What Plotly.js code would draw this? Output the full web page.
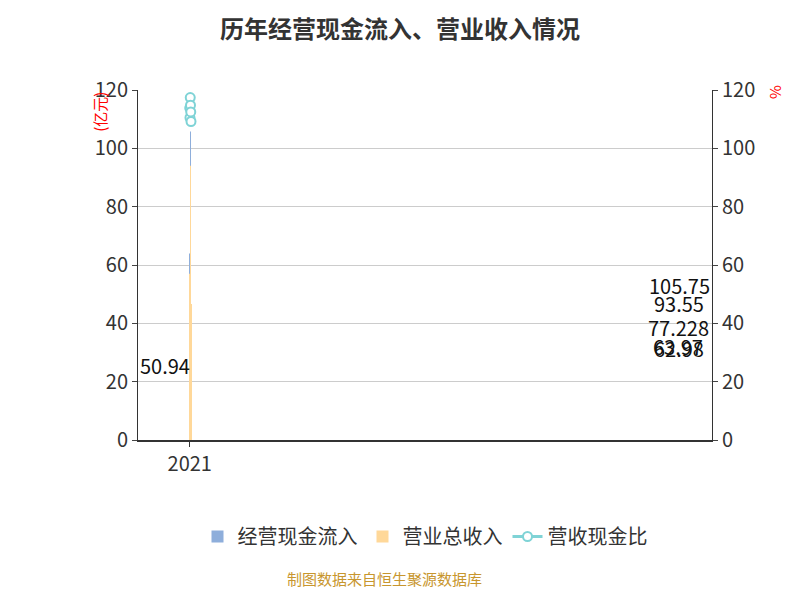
<!DOCTYPE html>
<html><head><meta charset="utf-8">
<script src="https://cdn.plot.ly/plotly-3.0.1.min.js"></script>
<style>body{margin:0}#c{width:800px;height:600px}</style>
</head><body><div id="c"></div>
<script>
var years = ['2021', '2022', '2023', '2024', '2025', '2026H1'];
var cashIn = [63.97, 62.98, 77.228, 93.55, 105.75, 50.94];
var cashLabels = ['63.97', '62.98', '77.228', '93.55', '105.75', '50.94'];
var revenue = [56.2, 57.0, 65.8, 81.5, 94.0, 46.6];
var ratio = [113.8, 110.5, 117.4, 114.8, 112.5, 109.2];

var traces = [
  { type: 'bar', name: '经营现金流入', x: years, y: cashIn, marker: { color: '#8eaedb' } },
  { type: 'bar', name: '营业总收入', x: years, y: revenue, marker: { color: '#ffd899' } },
  { type: 'scatter', mode: 'lines+markers', name: '营收现金比', x: years, y: ratio, yaxis: 'y2',
    line: { color: '#7fd3d6', width: 3 },
    marker: { size: 9, color: '#fff', line: { color: '#7fd3d6', width: 2 } } }
];

// value labels centred on the blue bars
var labels = years.map(function (yr, i) {
  return { x: yr, y: cashIn[i] / 2, text: cashLabels[i], showarrow: false, xshift: -26,
    font: { size: 20, color: '#111' } };
});

var layout = {
  width: 800, height: 600,
  font: { family: 'Noto Sans CJK SC, Noto Sans', color: '#333' },
  title: { text: '<b>历年经营现金流入、营业收入情况</b>', x: 0.5, y: 0.965, font: { size: 24, color: '#333' } },
  margin: { l: 138, r: 88, t: 90, b: 160 },
  bargap: 0.2, bargroupgap: 0.15,
  xaxis: { type: 'category', showline: true, linecolor: '#333', linewidth: 1.5, ticks: 'outside', tickcolor: '#333',
    tickfont: { size: 20 } },
  yaxis: { range: [0, 120], dtick: 20, showline: true, linecolor: '#333', ticks: 'outside',
    gridcolor: '#ccc', tickfont: { size: 20 }, zeroline: false },
  yaxis2: { range: [0, 120], dtick: 20, overlaying: 'y', side: 'right', showline: true, linecolor: '#333',
    ticks: 'outside', showgrid: false, tickfont: { size: 20 }, zeroline: false },
  showlegend: true,
  legend: { orientation: 'h', x: 0.5, xanchor: 'center', y: -0.22, font: { size: 20 } },
  annotations: labels.concat([
    { text: '(亿元)', xref: 'paper', yref: 'paper', x: -0.09, y: 1.0, textangle: -90,
      showarrow: false, font: { size: 15, color: 'red' } },
    { text: '%', xref: 'paper', yref: 'paper', x: 1.13, y: 1.02, textangle: -90,
      showarrow: false, font: { size: 15, color: 'red' } },
    { text: '制图数据来自恒生聚源数据库', xref: 'paper', yref: 'paper', x: 0.43, y: -0.43,
      showarrow: false, font: { size: 15, color: '#c8962e' } }
  ])
};

Plotly.newPlot('c', traces, layout, { displayModeBar: false });
</script>
</body></html>
